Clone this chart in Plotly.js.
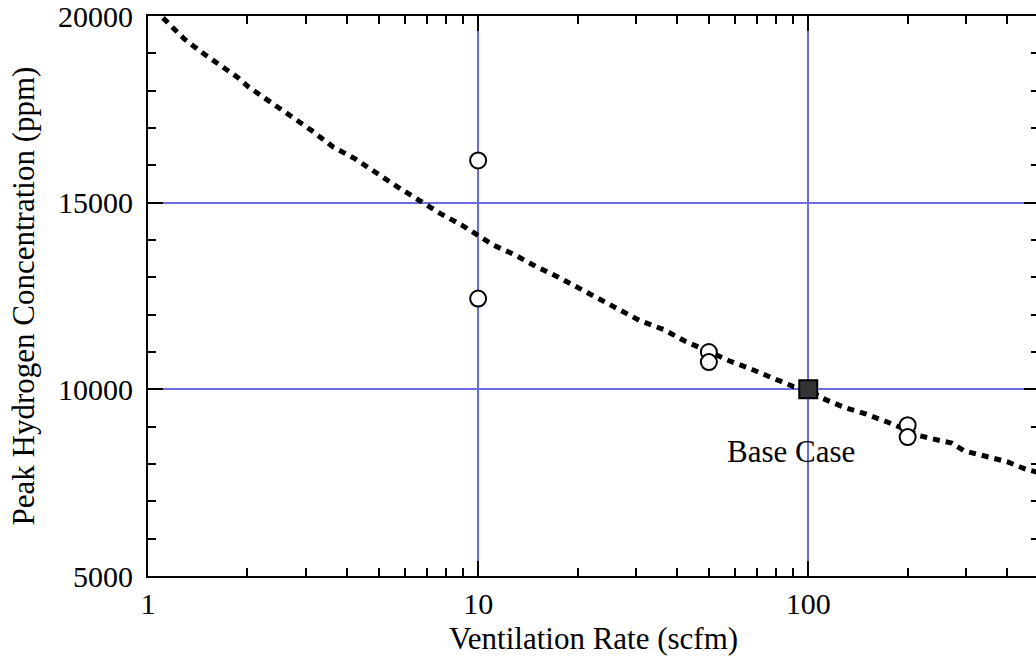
<!DOCTYPE html>
<html>
<head>
<meta charset="utf-8">
<script src="https://cdn.plot.ly/plotly-3.0.1.min.js"></script>
<style>
html,body{margin:0;padding:0;overflow:hidden;background:#fff;}
#chart{width:1040px;height:656px;}
</style>
</head>
<body>
<div id="chart"></div>
<script>
// Dotted model curve: ventilation rate (scfm) vs peak H2 (ppm)
const curveX = [1.11, 1.29, 1.49, 1.74, 1.87, 2.01, 2.34, 2.72, 3.15, 3.64, 4.23, 4.93, 5.7, 6.67, 7.67, 8.92, 10.27, 11.1, 12.94, 14.99, 17.5, 20.1, 23.4, 26.9, 30.9, 36.5, 42.4, 49.5, 57.3, 66.4, 76.8, 90.3, 100, 111, 129, 150, 175, 218, 253, 272, 296, 343, 400, 460, 495];
const curveY = [19950, 19379, 18960, 18534, 18356, 18108, 17689, 17307, 16916, 16489, 16180, 15779, 15422, 15049, 14713, 14400, 14072, 13867, 13600, 13288, 13005, 12712, 12400, 12107, 11840, 11600, 11288, 11030, 10773, 10560, 10328, 10072, 10000, 9751, 9512, 9333, 9112, 8755, 8621, 8560, 8355, 8195, 8061, 7848, 7780];

// Sensitivity cases (open circles)
const caseX = [10, 10, 50, 50, 200, 200];
const caseY = [16130, 12430, 11000, 10730, 9040, 8720];

// Base case (filled square)
const baseX = [100];
const baseY = [10000];
const baseLabel = "Base Case";
const baseLabelPos = [88.8, 8340];

// Axis ticks
const xTickVals = [1, 10, 100];
const xTickText = ["1", "10", "100"];
const yTickVals = [5000, 10000, 15000, 20000];
const yTickText = ["5000", "10000", "15000", "20000"];

const xTitle = "Ventilation Rate (scfm)";
const yTitle = "Peak Hydrogen Concentration (ppm)";

const FONT = "Liberation Serif";
const GRID = "#6c6ce2";

const traces = [
  {x: curveX, y: curveY, mode: "lines", type: "scatter",
   line: {color: "#000", width: 5, dash: "7px,6px"}, hoverinfo: "skip"},
  {x: caseX, y: caseY, mode: "markers", type: "scatter",
   marker: {symbol: "circle", size: 16, color: "#fff", line: {color: "#000", width: 2}}},
  {x: baseX, y: baseY, mode: "markers", type: "scatter",
   marker: {symbol: "square", size: 18, color: "#333333", line: {color: "#000", width: 2}}}
];

const layout = {
  width: 1040, height: 656,
  margin: {l: 148, r: 1, t: 16, b: 80},
  paper_bgcolor: "#fff", plot_bgcolor: "#fff",
  showlegend: false,
  font: {family: FONT, size: 30, color: "#000"},
  xaxis: {
    type: "log", range: [0, Math.log10(500)],
    tickvals: xTickVals, ticktext: xTickText,
    ticks: "inside", ticklen: 15, tickwidth: 2, tickcolor: "#000",
    showline: true, linecolor: "#000", linewidth: 2, mirror: "allticks",
    showgrid: true, gridcolor: GRID, gridwidth: 2,
    zeroline: false,
    ticklabeloverflow: "allow",
    minor: {dtick: "D1", ticks: "inside", ticklen: 8, tickwidth: 2, tickcolor: "#000", showgrid: false},
    tickfont: {family: FONT, size: 30, color: "#000"},
    title: {text: xTitle, font: {family: FONT, size: 31, color: "#000"}, standoff: 8}
  },
  yaxis: {
    range: [5000, 20000],
    tickvals: yTickVals, ticktext: yTickText,
    ticks: "inside", ticklen: 15, tickwidth: 2, tickcolor: "#000",
    showline: true, linecolor: "#000", linewidth: 2, mirror: "allticks",
    showgrid: true, gridcolor: GRID, gridwidth: 2,
    zeroline: false,
    ticklabelstandoff: 7,
    ticklabeloverflow: "allow",
    minor: {dtick: 1000, tick0: 5000, ticks: "inside", ticklen: 8, tickwidth: 2, tickcolor: "#000", showgrid: false},
    tickfont: {family: FONT, size: 30, color: "#000"},
    title: {text: yTitle, font: {family: FONT, size: 31, color: "#000"}, standoff: 14}
  },
  annotations: [{
    x: Math.log10(baseLabelPos[0]), y: baseLabelPos[1], xref: "x", yref: "y",
    text: baseLabel, showarrow: false, xanchor: "center", yanchor: "middle",
    font: {family: FONT, size: 31, color: "#000"}
  }]
};

Plotly.newPlot("chart", traces, layout, {displayModeBar: false, staticPlot: true});
</script>
</body>
</html>
